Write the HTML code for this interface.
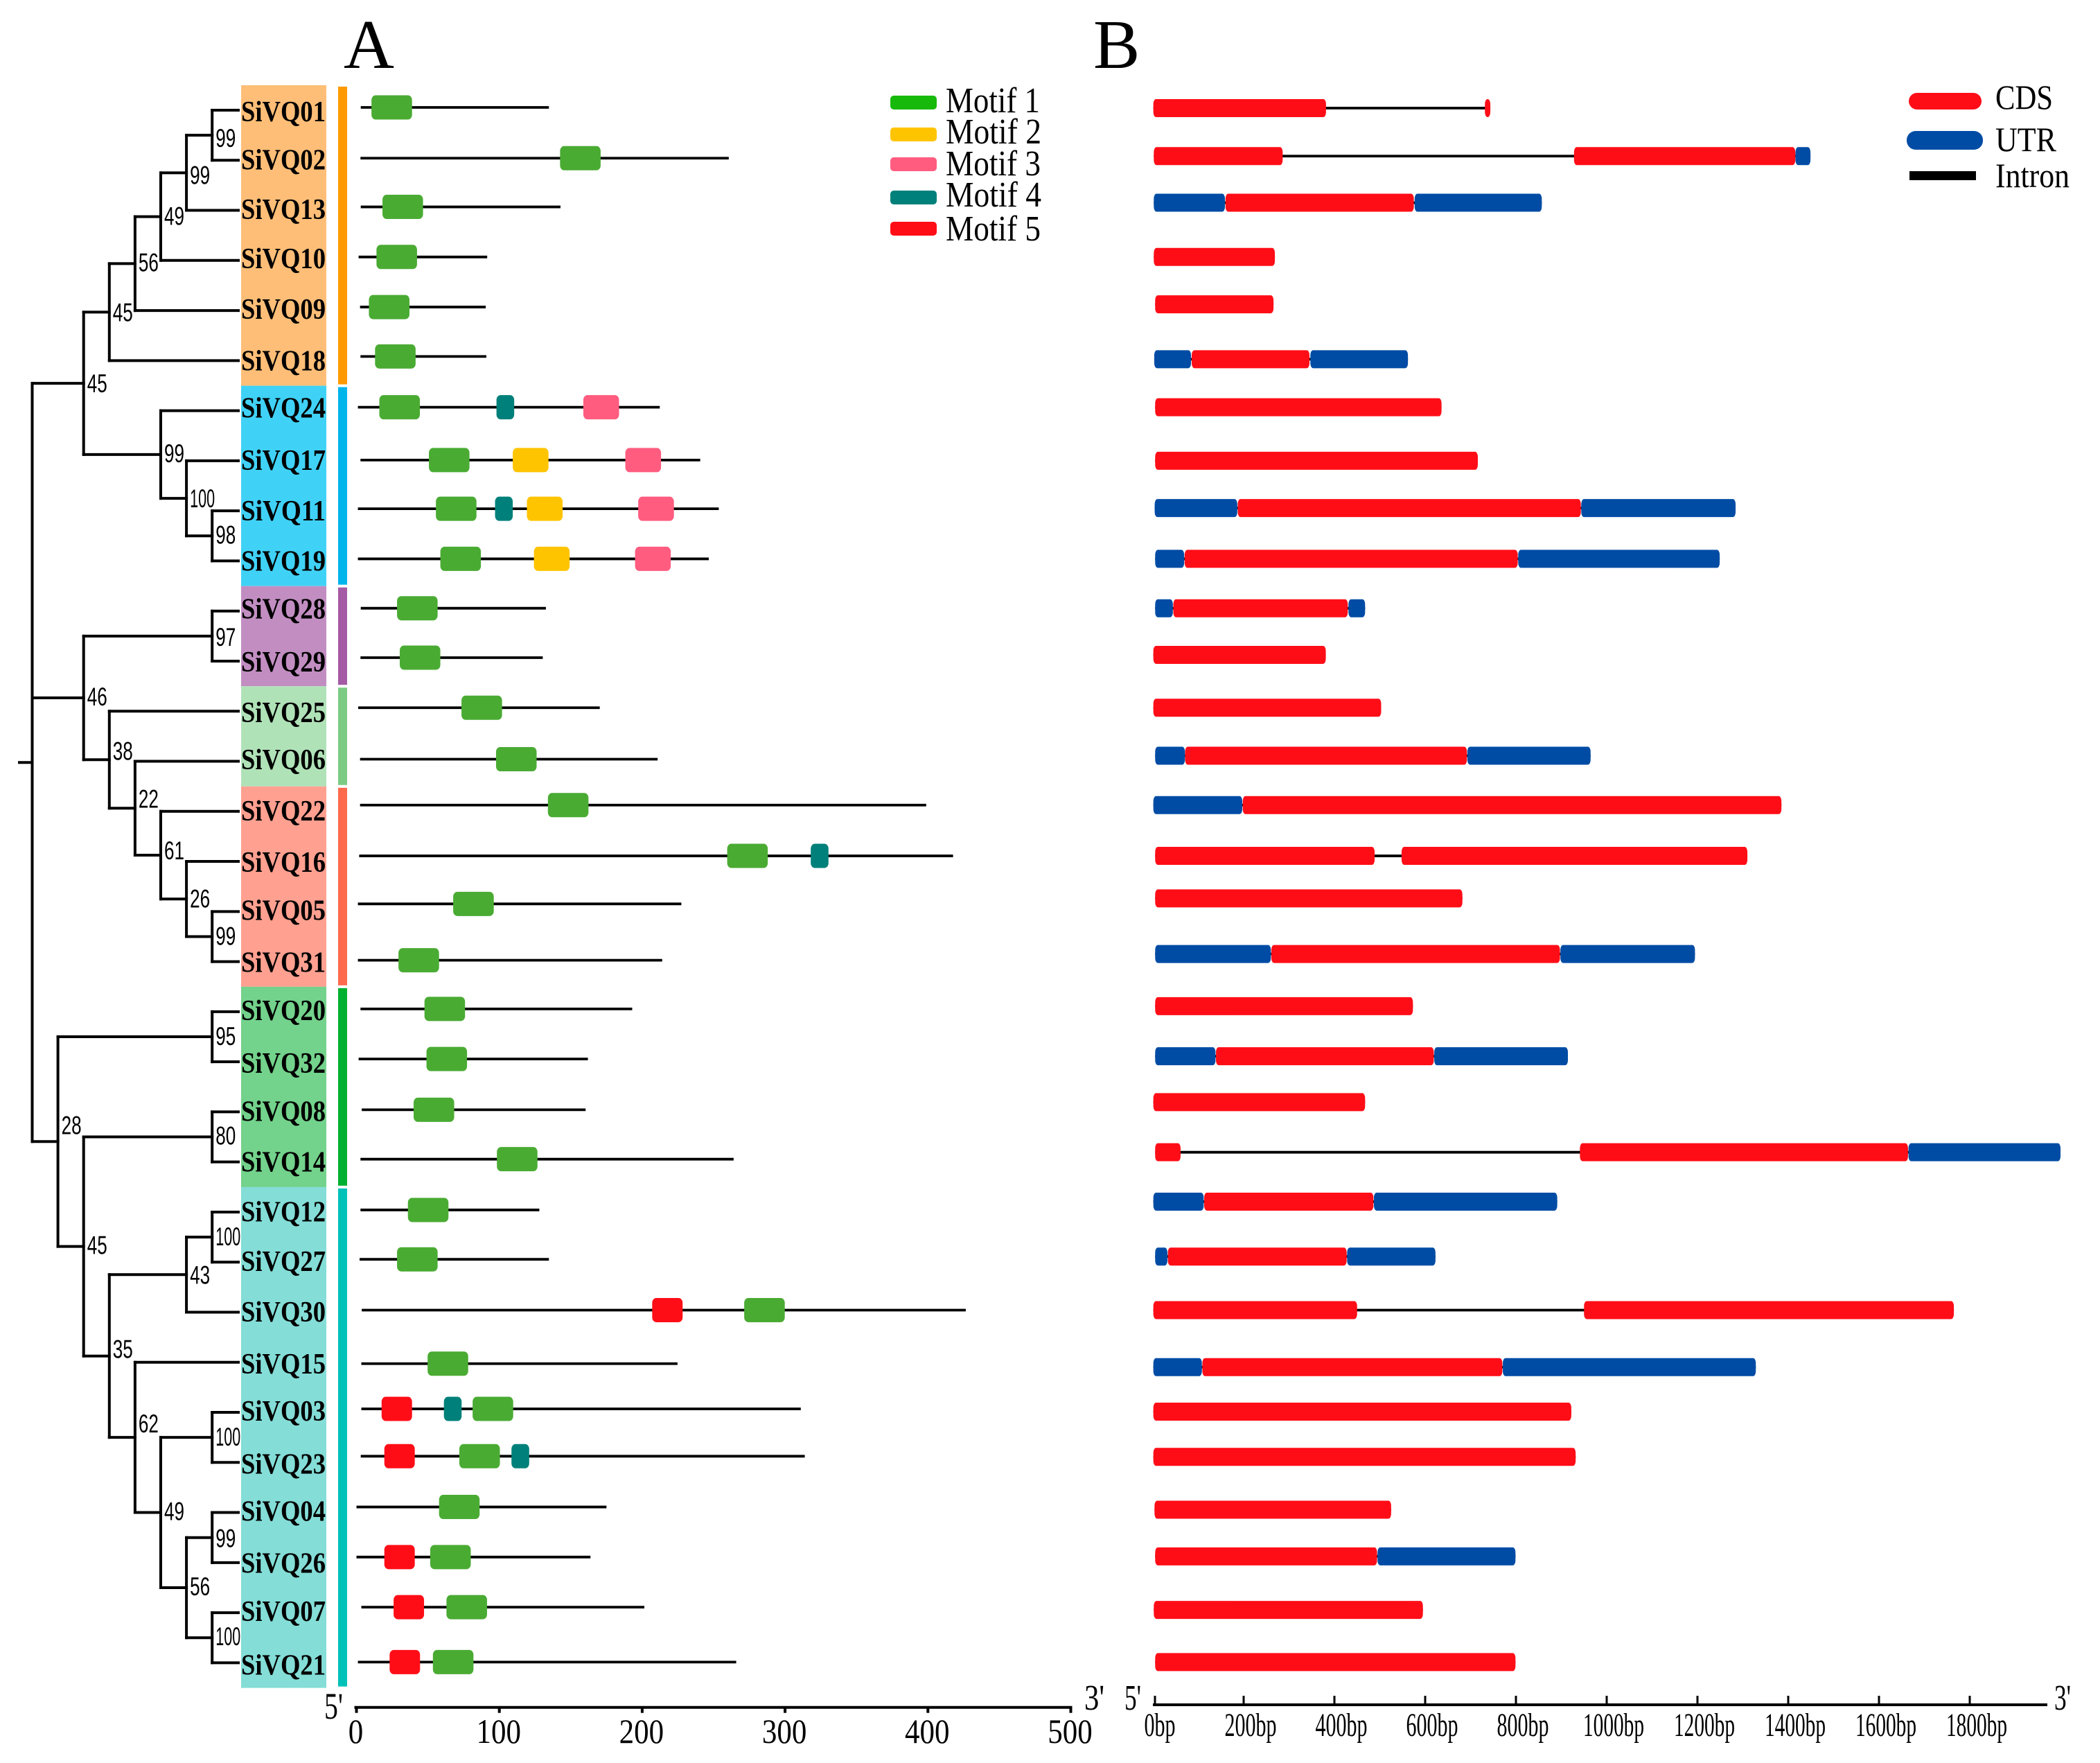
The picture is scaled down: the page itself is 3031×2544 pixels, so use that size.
<!DOCTYPE html>
<html lang="en">
<head>
<meta charset="utf-8">
<title>SiVQ gene family: phylogeny, motifs and gene structure</title>
<style>
html,body{margin:0;padding:0;background:#fff;}
svg{display:block;}
text{font-family:"Liberation Serif","Noto Serif CJK SC",serif;fill:#000;}
.boot{font-family:"Liberation Sans","Noto Sans CJK SC",sans-serif;font-size:37px;}
.gene{font-weight:bold;font-size:42px;}
</style>
</head>
<body>
<svg id="fig" xmlns="http://www.w3.org/2000/svg" width="3031" height="2544" viewBox="0 0 3031 2544">
  <rect x="0" y="0" width="3031" height="2544" fill="#fff"/>
  <text x="496" y="98" font-size="101">A</text>
  <text x="1578" y="98" font-size="101">B</text>

  <g>
    <rect x="1285" y="138" width="67" height="20" rx="5" fill="#17B90A"/>
    <text x="1365" y="162" font-size="52" textLength="136" lengthAdjust="spacingAndGlyphs">Motif 1</text>
    <rect x="1285" y="184" width="67" height="20" rx="5" fill="#FFC400"/>
    <text x="1365" y="207" font-size="52" textLength="138" lengthAdjust="spacingAndGlyphs">Motif 2</text>
    <rect x="1285" y="227" width="67" height="20" rx="5" fill="#FF5C80"/>
    <text x="1365" y="253" font-size="52" textLength="137" lengthAdjust="spacingAndGlyphs">Motif 3</text>
    <rect x="1285" y="275" width="67" height="20" rx="5" fill="#00807A"/>
    <text x="1365" y="298" font-size="52" textLength="138" lengthAdjust="spacingAndGlyphs">Motif 4</text>
    <rect x="1285" y="320" width="67" height="20" rx="5" fill="#FF0D17"/>
    <text x="1365" y="347" font-size="52" textLength="137" lengthAdjust="spacingAndGlyphs">Motif 5</text>
  </g>

  <g>
    <rect x="2755" y="134" width="105" height="24" rx="12" fill="#FF0D17"/>
    <text x="2880" y="157" font-size="50" textLength="83" lengthAdjust="spacingAndGlyphs">CDS</text>
    <rect x="2752" y="189" width="110" height="27" rx="13" fill="#004CA5"/>
    <text x="2880" y="218" font-size="50" textLength="88" lengthAdjust="spacingAndGlyphs">UTR</text>
    <rect x="2756" y="247" width="96" height="13" fill="#000"/>
    <text x="2880" y="270" font-size="50" textLength="107" lengthAdjust="spacingAndGlyphs">Intron</text>
  </g>

  <g id="bands"></g>
  <g id="tree"></g>
  <g id="labels"></g>
  <g id="motifs"></g>
  <g id="structure"></g>
  <g id="axisA"></g>
  <g id="axisB"></g>
</svg>

<script>
/* ---------- data ---------- */
const genes = ['SiVQ01','SiVQ02','SiVQ13','SiVQ10','SiVQ09','SiVQ18','SiVQ24','SiVQ17','SiVQ11','SiVQ19','SiVQ28','SiVQ29','SiVQ25','SiVQ06','SiVQ22','SiVQ16','SiVQ05','SiVQ31','SiVQ20','SiVQ32','SiVQ08','SiVQ14','SiVQ12','SiVQ27','SiVQ30','SiVQ15','SiVQ03','SiVQ23','SiVQ04','SiVQ26','SiVQ07','SiVQ21'];
const cladeSizes = [6,4,2,2,4,4,10];
const cladeBandColors = ['#FEBE77','#40D2F6','#C28EC2','#B0E2B8','#FFA090','#73D28B','#84DDD7'];
const cladeStripColors = ['#FF9900','#00B4EC','#A45AA5','#7CCB85','#FF6A4D','#00B030','#00C1B8'];

/* Panel A: protein line start / end (aa) */
const proteinStart = [3,2.8,3,1.5,2.5,2.8,1,2.8,1,1,3,2.8,1.2,2.5,2.5,1.9,1,1,2.8,1.5,3.7,2.8,2.8,2.2,3.7,3.4,3.4,3,0,0,3.4,1];
const proteinEnd = [134.7,260.6,142.8,91.5,90.5,90.9,212.3,240.6,253.6,246.6,132.6,130.4,170.3,210.8,398.8,417.6,227.4,214,193,162,160.4,264,128,134.7,426.5,224.7,311,313.8,175,163.8,201.5,265.8];
/* Panel A: motif placements per gene as [motif number, start aa] */
const motifHits = [
 [[1,10.5]],[[1,142.5]],[[1,18.2]],[[1,14]],[[1,8.7]],[[1,13]],
 [[1,16],[4,98],[3,158.8]],
 [[1,50.7],[2,109.4],[3,188.2]],
 [[1,55.6],[4,97],[2,119.3],[3,197.2]],
 [[1,58.7],[2,124.2],[3,195]],
 [[1,28.4]],[[1,30.3]],[[1,73.5]],[[1,97.7]],[[1,134]],
 [[1,259.5],[4,318]],
 [[1,67.7]],[[1,29.4]],[[1,47.6]],[[1,49]],[[1,40]],[[1,98.3]],
 [[1,36]],[[1,28.4]],
 [[5,207],[1,271.4]],
 [[1,49.8]],
 [[5,17.6],[4,61.2],[1,81.3]],
 [[5,19.5],[1,72],[4,108.5]],
 [[1,57.8]],
 [[5,19.5],[1,51.6]],
 [[5,26],[1,63]],
 [[5,23.2],[1,53.5]]
];
const motifLengths = {1:28.4,2:25,3:25,4:12.4,5:21.3};
const motifTicks = [0,100,200,300,400,500];

/* Panel B: exon segments in bp per gene */
const cdsSegments = [
 [[1,381.5],[731.6,743.6]],
 [[2,286],[928,1415.6]],
 [[160,575]],
 [[2,268.8]],
 [[5,265.8]],
 [[85.5,345]],
 [[5,636]],
 [[5,716]],
 [[187,943]],
 [[70,804]],
 [[45,429.5]],
 [[1,381]],
 [[1,503]],
 [[71,692]],
 [[198,1385]],
 [[5,488.6],[548,1310]],
 [[5,682]],
 [[261,897]],
 [[5,573]],
 [[139,619]],
 [[1,467.6]],
 [[5,61],[941,1664]],
 [[113,486]],
 [[33,427]],
 [[1,450],[950,1765]],
 [[109,770]],
 [[1,922]],
 [[1,931.6]],
 [[3.6,525]],
 [[5,494]],
 [[2,595]],
 [[5,799]]
];
const utrSegments = [
 [],
 [[1416,1449]],
 [[2,158.8],[576.8,857]],
 [],[],
 [[3,84],[347,562]],
 [],[],
 [[4,186],[944,1284]],
 [[5,69],[805,1249]],
 [[5,44],[431,467.6]],
 [],[],
 [[5,70.6],[693,964.5]],
 [[1,197]],
 [],[],
 [[5,260],[898,1194.5]],
 [],
 [[5,138],[620,914.5]],
 [],
 [[1665,2000]],
 [[1,112],[487,891]],
 [[5,32],[428,622.7]],
 [],
 [[1,108],[771,1328.6]],
 [],[],[],
 [[495,799]],
 [],[]
];
const structureTicks = [0,200,400,600,800,1000,1200,1400,1600,1800];

/* Tree topology: N(depth, bootstrap, labelRaise, ...children); tips are gene names */
function N(depth, boot, raise){ return {depth:depth, boot:boot, raise:raise, kids:[].slice.call(arguments,3)}; }
const treeRoot = N(0,null,0,
  N(2,45,0,
    N(3,45,0,
      N(4,56,2,
        N(5,49,1,
          N(6,99,-3,
            N(7,99,-4,'SiVQ01','SiVQ02'),
            'SiVQ13'),
          'SiVQ10'),
        'SiVQ09'),
      'SiVQ18'),
    N(5,99,2,
      'SiVQ24',
      N(6,100,0,
        'SiVQ17',
        N(7,98,2,'SiVQ11','SiVQ19')))),
  N(2,46,2,
    N(7,97,-1,'SiVQ28','SiVQ29'),
    N(3,38,13,
      'SiVQ25',
      N(4,22,14,
        'SiVQ06',
        N(5,61,7,
          'SiVQ22',
          N(6,26,1,
            'SiVQ16',
            N(7,99,1,'SiVQ05','SiVQ31')))))),
  N(1,28,24,
    N(7,95,1,'SiVQ20','SiVQ32'),
    N(2,45,2,
      N(7,80,2,'SiVQ08','SiVQ14'),
      N(3,35,10,
        N(6,43,0,
          N(7,100,1,'SiVQ12','SiVQ27'),
          'SiVQ30'),
        N(4,62,20,
          'SiVQ15',
          N(5,49,2,
            N(7,100,1,'SiVQ03','SiVQ23'),
            N(6,56,2,
              N(7,99,-1,'SiVQ04','SiVQ26'),
              N(7,100,2,'SiVQ07','SiVQ21'))))))));

/* ---------- layout constants (row offsets from the regular grid) ---------- */
const motifRowNudge = [-4,-3,-5,-5,-5,-6,-5,-1,-3,-3,-4,-5,-5,-3,-9,-8,-11,-2,-4,-4,-3,-4,-3,-4,-3,2,-5,-9,-8,-8,-8,-1];
const structureRowNudge = [-3,-6,-11,-5,-9,-2,-5,0,-4,-3,-4,-9,-5,-8,-9,-8,-19,-11,-8,-8,-14,-14,-15,-8,-3,7,-1,-8,-4,-9,-4,-1];
const labelRowNudge = [16,13,12.5,11,12,14,10,13,14,14,11,15,16,11.5,13,15,12,15,12,16,13,14,13.5,13,13.5,16,12,16,12,14.5,12,17];

/* ---------- scales ---------- */
const rowY = function(i){ return 159 + 72.27*i; };
const xMotif = function(v){ return 514.5 + 2.062*v; };
const xBp = function(bp){ return 1664 + 0.655*bp; };
const xDepth = function(d){ return 46.5 + 37.1*d; };
const TIP_X = 344;

const SVGNS = 'http://www.w3.org/2000/svg';
function make(parent, tag, attrs, txt){
  const el = document.createElementNS(SVGNS, tag);
  for (const k in attrs) el.setAttribute(k, attrs[k]);
  if (txt !== undefined) el.textContent = txt;
  parent.appendChild(el);
  return el;
}
const $ = function(id){ return document.getElementById(id); };

/* ---------- clade bands and strips ---------- */
(function(){
  const g = $('bands');
  let start = 0;
  cladeSizes.forEach(function(n, c){
    const top = rowY(start) - 36;
    const bottom = rowY(start + n) - 36;
    const band = make(g, 'rect', {x:348, y:top, width:123, height:bottom-top, fill:cladeBandColors[c]});
    
    
    const strip = make(g, 'rect', {x:488, y:top+2, width:13, height:bottom-top-4, fill:cladeStripColors[c]});
    
    
    start += n;
  });
})();

/* ---------- gene labels ---------- */
genes.forEach(function(name, i){
  const t = make($('labels'), 'text', {x:348, y:rowY(i)+labelRowNudge[i], 'class':'gene', textLength:122, lengthAdjust:'spacingAndGlyphs'}, name);
  
  
});

/* ---------- tree ---------- */
(function(){
  const g = $('tree');
  function seg(x1,y1,x2,y2,nm){
    const l = make(g, 'line', {x1:x1,y1:y1,x2:x2,y2:y2,stroke:'#000','stroke-width':4,'stroke-linecap':'square'});
    
    
  }
  function place(node){
    if (typeof node === 'string') return {x:TIP_X, y:rowY(genes.indexOf(node))};
    const x = xDepth(node.depth);
    const pts = node.kids.map(place);
    const y = (pts[0].y + pts[pts.length-1].y)/2;
    seg(x, pts[0].y, x, pts[pts.length-1].y, 'tree-node-stem');
    pts.forEach(function(p){ seg(x, p.y, p.x, p.y, 'tree-branch'); });
    if (node.boot !== null){
      const s = String(node.boot);
      const t = make(g, 'text', {x:x+5, y:y+13-node.raise, 'class':'boot', textLength:s.length===3?36:29, lengthAdjust:'spacingAndGlyphs'}, s);
      
      
    }
    return {x:x, y:y};
  }
  const root = place(treeRoot);
  seg(28, root.y, xDepth(0), root.y, 'tree-root-stub');
})();

/* ---------- panel A ---------- */
const motifColors = {1:'#4AAB33',2:'#FFC400',3:'#FF5C80',4:'#00807A',5:'#FF0D17'};
genes.forEach(function(name, i){
  const g = $('motifs');
  const y = rowY(i) + motifRowNudge[i];
  const line = make(g, 'line', {x1:xMotif(proteinStart[i]), y1:y, x2:xMotif(proteinEnd[i]), y2:y, stroke:'#000','stroke-width':3.8});
  
  
  motifHits[i].forEach(function(h){
    const m = make(g, 'rect', {x:xMotif(h[1]), y:y-17.5, width:xMotif(h[1]+motifLengths[h[0]])-xMotif(h[1]), height:35, rx:6, ry:7, fill:motifColors[h[0]]});
    
    
  });
});

/* ---------- panel B ---------- */
genes.forEach(function(name, i){
  const g = $('structure');
  const y = rowY(i) + structureRowNudge[i];
  const all = cdsSegments[i].concat(utrSegments[i]);
  const lo = Math.min.apply(null, all.map(function(s){return s[0];}));
  const hi = Math.max.apply(null, all.map(function(s){return s[1];}));
  const intron = make(g, 'line', {x1:xBp(lo), y1:y, x2:xBp(hi), y2:y, stroke:'#000','stroke-width':3.8});
  
  
  function exon(s, fill, kind){
    const r = make(g, 'rect', {x:xBp(s[0]), y:y-13, width:xBp(s[1])-xBp(s[0]), height:26, rx:4, ry:7, fill:fill});
    
    
  }
  utrSegments[i].forEach(function(s){ exon(s, '#004CA5', 'utr'); });
  cdsSegments[i].forEach(function(s){ exon(s, '#FF0D17', 'cds'); });
});

/* ---------- axes ---------- */
(function(){
  const g = $('axisA');
  const AY = 2463.7;
  const base = make(g, 'line', {x1:xMotif(0)-3, y1:AY, x2:xMotif(500)+2, y2:AY, stroke:'#000','stroke-width':4});
  
  
  motifTicks.forEach(function(v){
    const s = String(v);
    const tick = make(g, 'line', {x1:xMotif(v), y1:AY, x2:xMotif(v), y2:AY+8, stroke:'#000','stroke-width':4});
    
    
    const w = s.length*21.5;
    const t = make(g, 'text', {x:xMotif(v)-w/2-1, y:2515, 'font-size':50, textLength:w, lengthAdjust:'spacingAndGlyphs'}, s);
    
    
  });
  const p5 = make(g, 'text', {x:468, y:2480, 'font-size':54, textLength:27, lengthAdjust:'spacingAndGlyphs'}, "5'");
  
  
  const p3 = make(g, 'text', {x:1565, y:2467, 'font-size':52, textLength:29, lengthAdjust:'spacingAndGlyphs'}, "3'");
  
  
})();

(function(){
  const g = $('axisB');
  const AY = 2460;
  const base = make(g, 'line', {x1:xBp(0), y1:AY, x2:2955, y2:AY, stroke:'#000','stroke-width':4});
  
  
  structureTicks.forEach(function(v, i){
    const s = v + 'bp';
    const tx = i === 0 ? xBp(v) + 3 : xBp(v);
    const tick = make(g, 'line', {x1:tx, y1:AY-13, x2:tx, y2:AY, stroke:'#000','stroke-width':3});
    
    
    const w = s.length === 3 ? 45 : (s.length === 5 ? 75 : 88);
    const t = make(g, 'text', {x:xBp(v)+10-w/2, y:2505, 'font-size':48, textLength:w, lengthAdjust:'spacingAndGlyphs'}, s);
    
    
  });
  const p5 = make(g, 'text', {x:1623, y:2467, 'font-size':52, textLength:24, lengthAdjust:'spacingAndGlyphs'}, "5'");
  
  
  const p3 = make(g, 'text', {x:2965, y:2467, 'font-size':52, textLength:24, lengthAdjust:'spacingAndGlyphs'}, "3'");
  
  
})();
</script>
</body>
</html>
